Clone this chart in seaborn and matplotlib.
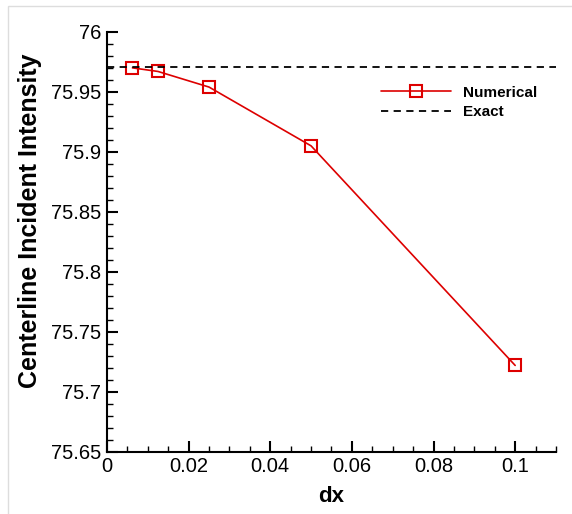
import matplotlib
matplotlib.use("Agg")
import matplotlib.pyplot as plt
import seaborn as sns
import pandas as pd
from matplotlib.ticker import MultipleLocator, FuncFormatter

# grid spacing and centerline incident intensity
dx = [0.00625, 0.0125, 0.025, 0.05, 0.1]
numerical = [75.970, 75.967, 75.954, 75.905, 75.722]
exact = 75.971

df = pd.DataFrame({"dx": dx, "intensity": numerical})

sns.set_style("ticks", {"text.color": "black", "axes.labelcolor": "black",
                        "xtick.color": "black", "ytick.color": "black",
                        "axes.edgecolor": "black"})
plt.rcParams["font.family"] = ["Liberation Sans", "DejaVu Sans"]

fig = plt.figure(figsize=(5.72, 5.14), dpi=100)
ax = fig.add_axes([0.187, 0.121, 0.785, 0.817])

sns.lineplot(data=df, x="dx", y="intensity", ax=ax, color="#dd0000", lw=1.2,
             marker="s", markersize=9, markerfacecolor="none",
             markeredgecolor="#dd0000", markeredgewidth=1.5, label="Numerical")
ax.axhline(exact, color="black", lw=1.3, ls=(0, (4, 3)), label="Exact")

ax.set_xlim(0, 0.11)
ax.set_ylim(75.65, 76.0)
ax.xaxis.set_major_locator(MultipleLocator(0.02))
ax.xaxis.set_minor_locator(MultipleLocator(0.005))
ax.yaxis.set_major_locator(MultipleLocator(0.05))
ax.yaxis.set_minor_locator(MultipleLocator(0.01))
ax.xaxis.set_major_formatter(FuncFormatter(lambda v, p: "0" if abs(v) < 1e-9 else f"{v:g}"))
ax.yaxis.set_major_formatter(FuncFormatter(lambda v, p: f"{round(v, 3):g}"))

for s in ["top", "right"]:
    ax.spines[s].set_visible(False)
for s in ["left", "bottom"]:
    ax.spines[s].set_linewidth(1.5)
ax.tick_params(which="major", direction="in", length=8, width=1.5, labelsize=14.5, pad=4)
ax.tick_params(which="minor", direction="in", length=4, width=1.0)

ax.set_xlabel("dx", fontsize=16, fontweight="bold", labelpad=7)
ax.set_ylabel("Centerline Incident Intensity", fontsize=18, fontweight="bold")
ax.yaxis.set_label_coords(-0.145, 0.55)

ax.legend(loc="upper right", bbox_to_anchor=(0.99, 0.905), frameon=False,
          prop={"weight": "bold", "size": 11}, handlelength=4.6,
          handletextpad=0.8, labelspacing=0.35)

fig.patches.append(plt.Rectangle((0.014, -0.01), 1.0, 0.999, transform=fig.transFigure,
                                 fill=False, edgecolor="#dddddd", lw=1.0))

fig.savefig("out.png", dpi=100)
